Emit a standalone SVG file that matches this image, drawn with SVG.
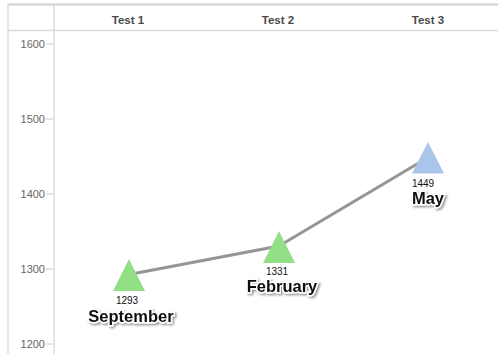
<svg xmlns="http://www.w3.org/2000/svg" width="498" height="354" viewBox="0 0 498 354">
  <defs>
    <filter id="shadow" x="-20%" y="-40%" width="140%" height="180%">
      <feDropShadow dx="1.5" dy="1.5" stdDeviation="1" flood-color="#000" flood-opacity="0.45"/>
    </filter>
  </defs>
  <style>
    .grid { stroke: #dcdcdc; stroke-width: 1.5; fill: none; }
    .tick { stroke: #c8c8c8; stroke-width: 1; }
    .ylab { font-family: "Liberation Sans", Arial, sans-serif; font-size: 11px; fill: #666; text-anchor: end; }
    .head { font-family: "Liberation Sans", Arial, sans-serif; font-size: 11.5px; font-weight: bold; fill: #4a4a4a; text-anchor: middle; }
    .val { font-family: "Liberation Sans", Arial, sans-serif; font-size: 10px; fill: #111; text-anchor: middle; stroke: #fff; stroke-width: 2.5; paint-order: stroke; }
    .name { font-family: "Liberation Sans", Arial, sans-serif; font-size: 16.5px; font-weight: bold; fill: #111; text-anchor: middle; stroke: #fff; stroke-width: 3; paint-order: stroke; filter: url(#shadow); }
    .green { fill: #93df86; }
    .blue { fill: #a9c5e9; }
    .link { stroke: #959595; stroke-width: 3; fill: none; stroke-linecap: round; stroke-linejoin: round; }
  </style>
  <rect x="0" y="0" width="498" height="354" fill="#fff"/>
  <g id="frame">
    <line class="grid" x1="8" y1="4.5" x2="498" y2="4.5" style="stroke:#d0d0d0;stroke-width:2"/>
    <line class="grid" x1="8" y1="4" x2="8" y2="354"/>
    <line class="grid" x1="54" y1="4" x2="54" y2="354"/>
    <line class="grid" x1="8" y1="30.5" x2="498" y2="30.5"/>
  </g>
  <g id="header">
    <text class="head" x="128" y="24">Test 1</text>
    <text class="head" x="278" y="24">Test 2</text>
    <text class="head" x="428" y="24">Test 3</text>
  </g>
  <g id="y-axis">
    <line class="tick" x1="46" y1="44" x2="53" y2="44"/>
    <line class="tick" x1="46" y1="119" x2="53" y2="119"/>
    <line class="tick" x1="46" y1="194" x2="53" y2="194"/>
    <line class="tick" x1="46" y1="269" x2="53" y2="269"/>
    <line class="tick" x1="46" y1="344" x2="53" y2="344"/>
    <text class="ylab" x="45" y="48">1600</text>
    <text class="ylab" x="45" y="123">1500</text>
    <text class="ylab" x="45" y="198">1400</text>
    <text class="ylab" x="45" y="273">1300</text>
    <text class="ylab" x="45" y="348">1200</text>
  </g>
  <g id="connectors">
    <polyline class="link" points="129,274.5 279,246 428,157.5"/>
  </g>
  <g id="september">
    <polygon class="green" points="129,259 145,291 113,291"/>
    <text class="val" x="127" y="304">1293</text>
    <text class="name" x="131" y="322">September</text>
  </g>
  <g id="february">
    <polygon class="green" points="279,231 295,263 263,263"/>
    <text class="val" x="277" y="274.5">1331</text>
    <text class="name" x="282" y="291.5">February</text>
  </g>
  <g id="may">
    <polygon class="blue" points="428,142 444,173.5 412,173.5"/>
    <text class="val" x="423" y="186.5">1449</text>
    <text class="name" x="428" y="204">May</text>
  </g>
</svg>
